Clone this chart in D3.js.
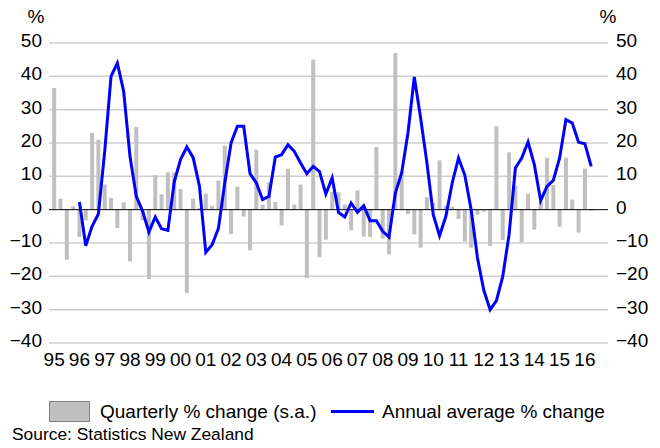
<!DOCTYPE html>
<html>
<head>
<meta charset="utf-8">
<script src="https://cdn.jsdelivr.net/npm/d3@7"></script>
<style>
  body { margin: 0; background: #fff; }
  text { font-family: "Liberation Sans", Arial, sans-serif; fill: #000; }
</style>
</head>
<body>
<script>
// Tick labels (years) and y ticks
const years = ["95","96","97","98","99","00","01","02","03","04","05","06","07","08","09","10","11","12","13","14","15","16"];
const yTicks = [-40, -30, -20, -10, 0, 10, 20, 30, 40, 50];

// Quarterly % change (s.a.), 1995Q1 .. 2016Q2
const quarterly = [
  36.5, 3.3, -15, 1.0, -8.2, -3.2, 23, 21, 7.5, 3.5, -5.5, 2.2,
  -15.5, 24.8, -3.2, -20.8, 10.4, 4.6, 11.2, 11.2, 6.2, -25, 3.3, 0.5,
  4.8, 1.2, 8.7, 19.2, -7.3, 6.9, -2.1, -12.2, 18, 1.5, 8.2, 2.3,
  -4.7, 12.3, 1.5, 7.5, -20.5, 45, -14.3, -9, 5.3, 5.2, 1.5, -6.2,
  5.8, -8.1, -8.2, 18.8, -8.7, -13.4, 47, 11.5, -1.3, -7.4, -11.4, 3.7,
  2, 14.8, 1.2, 0.9, -2.8, -9.6, -11.4, -1.5, -0.6, -10.9, 25, -9.1,
  17.2, 7.2, -9.8, 4.8, -6, 2.5, 15.6, 7.4, -5.1, 15.6, 3, -6.9,
  12.3, -0.3
];

// Annual average % change, 1996Q1 .. 2016Q2
const annual = [
  2.3, -10.8, -5, -1.3, 17.5, 40, 44, 35.5, 16, 4, -0.5, -6.7,
  -2.2, -5.7, -6.2, 8.3, 15, 18.8, 15.6, 7, -12.8, -10.5, -5.6, 8,
  20, 25, 25, 10.8, 8, 3, 4, 15.8, 16.5, 19.5, 17.5, 14,
  10.8, 13, 11.4, 4.7, 9.5, -0.8, -2.2, 2, -0.8, 1.2, -3.3, -3.3,
  -6.5, -8.2, 5, 11, 23, 39.8, 27.5, 14, -1.5, -7.8, -2, 8,
  15.5, 10.3, 0, -14.5, -24.2, -30, -27.3, -20, -7.5, 12.5, 15.5, 20.3,
  13.5, 2.7, 7, 8.8, 15.5, 27, 26, 20.2, 19.8, 13
];

// quarter categories for the whole axis (1995Q1 .. 2016Q4)
const quarters = [];
years.forEach(y => { for (let q = 1; q <= 4; q++) quarters.push(y + "Q" + q); });
const annualStart = quarters.indexOf("96Q1");

const width = 660, height = 448;
const plot = { left: 49, right: 608, top: 43, bottom: 343 };

const svg = d3.select("body").append("svg")
    .attr("width", width)
    .attr("height", height);

const x = d3.scaleBand()
    .domain(quarters)
    .range([51, 607]);

const y = d3.scaleLinear()
    .domain([-40, 50])
    .range([plot.bottom, plot.top]);

// Gridlines
svg.append("g")
    .selectAll("line")
    .data(yTicks.filter(d => d !== 0))
    .enter()
    .append("line")
    .attr("x1", plot.left)
    .attr("x2", plot.right)
    .attr("y1", d => y(d))
    .attr("y2", d => y(d))
    .attr("stroke", "#cfcfcf")
    .attr("stroke-width", 1.5);

// Bars
svg.append("g")
    .selectAll("rect")
    .data(quarterly)
    .enter()
    .append("rect")
    .attr("x", (d, i) => x(quarters[i]) + x.bandwidth() / 2 - 2)
    .attr("width", 4)
    .attr("y", d => y(Math.max(0, d)))
    .attr("height", d => Math.abs(y(d) - y(0)))
    .attr("fill", "#c0c0c0");

// Zero line
svg.append("line")
    .attr("x1", plot.left)
    .attr("x2", plot.right)
    .attr("y1", y(0))
    .attr("y2", y(0))
    .attr("stroke", "#000")
    .attr("stroke-width", 1);

// Annual average line
const line = d3.line()
    .x((d, i) => x(quarters[annualStart + i]) + x.bandwidth() / 2)
    .y(d => y(d));

svg.append("path")
    .datum(annual)
    .attr("d", line)
    .attr("fill", "none")
    .attr("stroke", "#0000ff")
    .attr("stroke-width", 3)
    .attr("stroke-linejoin", "miter");

// Axes
const yLeft = svg.append("g")
    .attr("transform", `translate(${plot.left},0)`)
    .call(d3.axisLeft(y).tickValues(yTicks).tickSize(0).tickPadding(7));
const yRight = svg.append("g")
    .attr("transform", `translate(${plot.right},0)`)
    .call(d3.axisRight(y).tickValues(yTicks).tickSize(0).tickPadding(8));
const xAxis = svg.append("g")
    .attr("transform", `translate(0,${plot.bottom})`)
    .call(d3.axisBottom(x)
        .tickValues(years.map(d => d + "Q1"))
        .tickFormat(d => d.slice(0, 2))
        .tickSize(0)
        .tickPadding(10));

[yLeft, yRight, xAxis].forEach(g => {
    g.select(".domain").remove();
    g.selectAll("text")
        .attr("font-size", 19)
        .attr("font-family", "Liberation Sans, Arial, sans-serif")
        .attr("fill", "#000");
});
yLeft.selectAll("text").attr("y", -2.5);
yRight.selectAll("text").attr("y", -2.5);

// % unit labels
svg.append("text").attr("x", 36).attr("y", 23).attr("text-anchor", "middle")
    .attr("font-size", 19).text("%");
svg.append("text").attr("x", 608).attr("y", 23).attr("text-anchor", "middle")
    .attr("font-size", 19).text("%");

// Legend
svg.append("rect")
    .attr("x", 49.5).attr("y", 401.5)
    .attr("width", 40).attr("height", 20)
    .attr("fill", "#c0c0c0")
    .attr("stroke", "#7f7f7f")
    .attr("stroke-width", 1);
svg.append("text")
    .attr("x", 100).attr("y", 418)
    .attr("font-size", 19)
    .text("Quarterly % change (s.a.)");
svg.append("line")
    .attr("x1", 331).attr("x2", 374)
    .attr("y1", 411.5).attr("y2", 411.5)
    .attr("stroke", "#0000ff")
    .attr("stroke-width", 3);
svg.append("text")
    .attr("x", 382).attr("y", 418)
    .attr("font-size", 19)
    .text("Annual average % change");

// Source
svg.append("text")
    .attr("x", 12).attr("y", 440)
    .attr("font-size", 17.4)
    .text("Source: Statistics New Zealand");
</script>
</body>
</html>
